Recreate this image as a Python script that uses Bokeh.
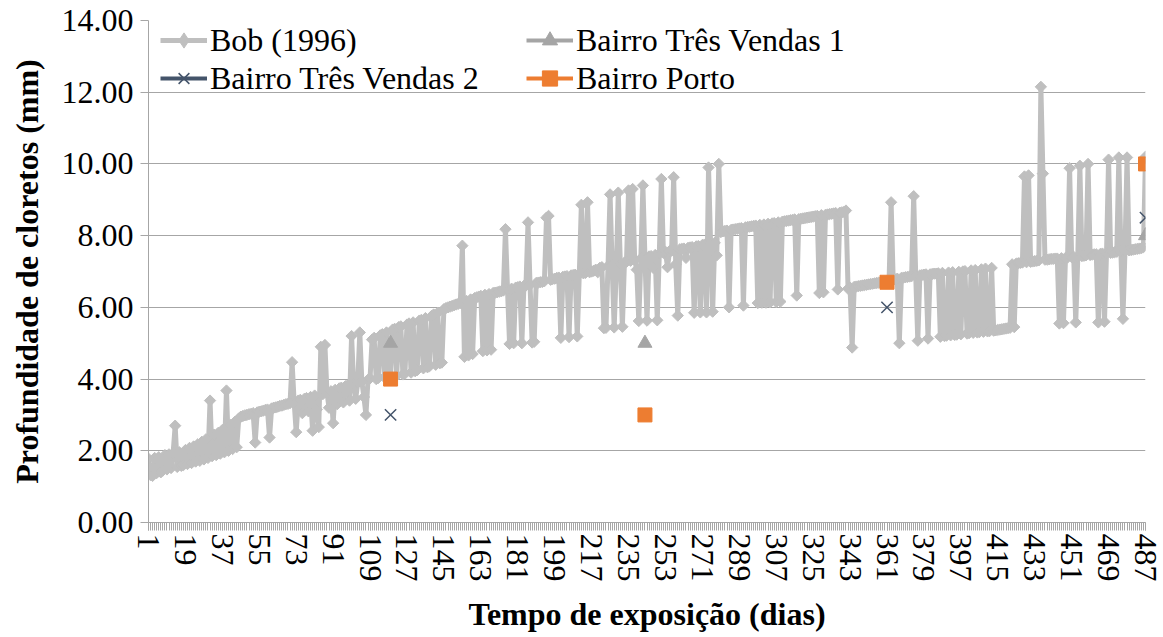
import numpy as np
from bokeh.plotting import figure
from bokeh.models import Range1d, FixedTicker, Legend, LegendItem, NumeralTickFormatter
from bokeh.embed import file_html
from bokeh.resources import INLINE

# ---------------- data ----------------
days = list(range(1, 488))
x_ticks = list(range(1, 488, 18))
y_ticks = [0, 2, 4, 6, 8, 10, 12, 14]

bob = [
    1.78, 1.32, 1.30, 1.80, 1.38, 1.82, 1.40, 1.45, 1.88, 1.48, 1.90, 1.52, 1.93, 2.70, 1.55, 1.96, 1.58, 1.60,
    2.02, 1.63, 2.08, 1.66, 2.12, 1.70, 2.18, 1.72, 2.25, 1.76, 2.32, 1.80, 3.40, 1.85, 2.45, 1.88, 2.50, 1.92,
    2.58, 1.96, 3.68, 2.00, 2.72, 2.05, 2.80, 2.10, 2.90, 2.95, 2.97, 2.99, 3.00, 3.02, 3.03, 3.05, 2.23, 3.07,
    3.09, 3.10, 3.12, 3.14, 3.15, 2.37, 3.18, 3.20, 3.21, 3.23, 3.25, 3.26, 3.28, 3.30, 3.31, 3.33, 4.47, 3.36,
    2.52, 3.40, 3.42, 3.05, 3.45, 3.47, 3.10, 3.50, 2.56, 3.54, 3.15, 2.66, 4.90, 3.58, 4.95, 3.62, 3.20, 3.66,
    2.77, 3.70, 3.30, 3.74, 3.76, 3.35, 3.80, 3.82, 3.40, 5.20, 3.86, 3.45, 3.90, 5.30, 3.93, 3.50, 3.00, 3.98,
    4.02, 5.10, 5.15, 4.00, 4.03, 5.22, 5.25, 4.05, 5.30, 4.06, 4.08, 5.38, 5.40, 4.10, 5.45, 5.47, 4.13, 4.15,
    5.52, 5.55, 4.18, 5.58, 4.22, 4.25, 5.63, 5.65, 4.30, 5.70, 4.33, 4.36, 5.76, 5.80, 4.40, 5.85, 4.44, 4.46,
    5.95, 5.98, 6.00, 6.02, 6.04, 6.06, 6.08, 6.10, 6.12, 7.72, 4.62, 6.18, 4.66, 6.22, 4.70, 6.26, 6.28, 6.30,
    6.32, 4.78, 6.35, 4.80, 6.37, 4.82, 6.40, 6.41, 6.42, 6.44, 6.45, 6.47, 8.18, 6.50, 4.98, 6.52, 5.00, 6.55,
    6.56, 6.58, 5.00, 6.60, 6.61, 8.37, 6.63, 5.02, 5.04, 6.68, 6.69, 6.70, 6.71, 6.73, 8.50, 8.55, 6.77, 6.79,
    6.80, 6.82, 6.83, 5.15, 6.85, 6.86, 6.87, 5.17, 6.89, 6.90, 6.91, 5.19, 6.93, 8.86, 6.95, 6.96, 8.93, 6.98,
    7.00, 7.02, 7.05, 6.98, 7.10, 7.12, 5.42, 5.43, 7.15, 9.15, 7.18, 5.44, 7.00, 9.20, 7.22, 5.46, 7.25, 7.27,
    9.26, 7.30, 9.30, 7.33, 7.05, 5.62, 7.36, 9.40, 7.38, 5.63, 7.42, 7.43, 7.10, 7.46, 5.64, 7.50, 9.58, 7.52,
    7.55, 7.12, 7.57, 7.58, 9.63, 7.20, 5.77, 7.62, 7.63, 7.64, 7.38, 7.66, 7.67, 7.68, 5.85, 7.70, 7.71, 5.86,
    7.74, 7.75, 5.86, 9.90, 7.78, 5.88, 7.80, 7.45, 10.00, 8.10, 8.12, 8.13, 8.14, 6.00, 8.16, 8.17, 8.18, 8.19,
    8.20, 8.21, 6.05, 8.23, 8.24, 8.25, 8.26, 8.27, 8.28, 6.12, 8.30, 6.13, 8.31, 6.13, 8.33, 6.14, 8.34, 8.35,
    6.15, 8.37, 6.16, 8.39, 8.40, 8.41, 8.42, 8.43, 8.44, 8.45, 6.33, 8.46, 8.47, 8.48, 8.49, 8.50, 8.51, 8.52,
    8.53, 8.54, 8.55, 6.40, 8.57, 6.42, 8.58, 8.59, 8.60, 8.61, 8.62, 8.63, 6.50, 8.64, 8.65, 8.66, 8.70, 6.52,
    6.55, 4.88, 6.57, 6.58, 6.59, 6.60, 6.61, 6.62, 6.63, 6.64, 6.65, 6.66, 6.67, 6.68, 6.69, 6.70, 6.71, 6.72,
    6.73, 6.74, 8.93, 6.76, 6.78, 6.80, 5.00, 6.82, 6.83, 6.84, 6.85, 6.86, 6.87, 9.10, 6.88, 5.07, 6.89, 6.90,
    6.91, 6.92, 5.13, 6.92, 6.93, 6.94, 6.94, 6.95, 5.18, 6.96, 5.20, 5.21, 6.97, 5.22, 6.98, 5.23, 5.24, 6.99,
    5.25, 7.00, 7.01, 5.27, 5.28, 7.03, 5.29, 7.04, 5.30, 5.31, 7.06, 5.32, 7.08, 5.33, 5.34, 7.10, 5.35, 5.36,
    5.37, 5.38, 5.39, 5.40, 5.41, 5.42, 5.43, 7.20, 5.45, 7.22, 7.23, 7.24, 7.25, 9.65, 7.26, 9.68, 7.27, 7.28,
    7.29, 7.30, 7.31, 12.15, 9.73, 7.33, 7.33, 7.34, 7.35, 7.35, 7.36, 7.36, 5.55, 7.37, 5.56, 7.38, 7.39, 9.88,
    7.40, 7.41, 5.58, 7.42, 9.95, 7.43, 7.44, 7.45, 10.00, 7.46, 7.47, 7.48, 7.48, 5.58, 7.49, 7.50, 5.60, 7.51,
    10.12, 7.52, 7.53, 7.54, 7.55, 10.18, 7.56, 5.68, 7.58, 10.18, 7.59, 7.60, 7.61, 7.62, 7.63, 7.64, 7.65, 7.68,
    10.20,
]

tv1_days = [119, 243, 487]
tv1_vals = [5.0, 5.0, 8.0]
tv2_days = [119, 361, 487]
tv2_vals = [3.0, 6.0, 8.5]
porto_days = [119, 243, 361, 487]
porto_vals = [4.0, 3.0, 6.7, 10.0]

# ---------------- styling ----------------
FONT = "'Times New Roman', 'Liberation Serif', Times, serif"
FS = "32px"
GRID = "#A6A6A6"
C_BOB = "#BFBFBF"
C_TV1 = "#A5A5A5"
C_TV2 = "#44546A"
C_PORTO = "#ED7D31"

p = figure(width=1163, height=637, x_range=Range1d(1, 487), y_range=Range1d(0, 14),
           output_backend="svg", toolbar_location=None,
           min_border_left=148, min_border_right=18, min_border_top=20, min_border_bottom=115)
p.outline_line_color = None
p.xgrid.visible = False
p.ygrid.ticker = FixedTicker(ticks=y_ticks)
p.ygrid.grid_line_color = GRID
p.ygrid.grid_line_width = 1

# y axis
yax = p.yaxis[0]
yax.ticker = FixedTicker(ticks=y_ticks)
yax.formatter = NumeralTickFormatter(format="0.00")
yax.axis_label = "Profundidade de cloretos (mm)"
yax.major_tick_out = 8
yax.major_tick_in = 0
yax.minor_tick_line_color = None
yax.major_label_standoff = 7
yax.axis_label_standoff = 14

# x axis
xax = p.xaxis[0]
xax.ticker = FixedTicker(ticks=x_ticks, minor_ticks=days)
xax.axis_label = "Tempo de exposição (dias)"
xax.major_label_orientation = "vertical"
xax.major_tick_out = 8
xax.major_tick_in = 0
xax.minor_tick_out = 8
xax.minor_tick_in = 0
xax.minor_tick_line_color = GRID
xax.major_label_standoff = 3
xax.axis_label_standoff = 11

for ax in (xax, yax):
    ax.axis_line_color = GRID
    ax.major_tick_line_color = GRID
    ax.major_label_text_font = FONT
    ax.major_label_text_font_size = FS
    ax.major_label_text_color = "black"
    ax.axis_label_text_font = FONT
    ax.axis_label_text_font_size = FS
    ax.axis_label_text_font_style = "bold"
    ax.axis_label_text_color = "black"

# series
bob_line = p.line(days, bob, line_color=C_BOB, line_width=5, line_join="round")
p.scatter(days, bob, marker="square", angle=np.pi / 4, size=8,
          fill_color=C_BOB, line_color=C_BOB)
bob_leg = p.scatter([np.nan], [np.nan], marker="diamond", size=15,
                    fill_color=C_BOB, line_color=C_BOB)

tv1_line = p.line([np.nan], [np.nan], line_color=C_TV1, line_width=4)
tv1_pts = p.scatter(tv1_days, tv1_vals, marker="triangle", size=14,
                    fill_color=C_TV1, line_color=C_TV1)
tv2_line = p.line([np.nan], [np.nan], line_color=C_TV2, line_width=4)
tv2_pts = p.scatter(tv2_days, tv2_vals, marker="x", size=16,
                    line_color=C_TV2, line_width=1.5)
porto_line = p.line([np.nan], [np.nan], line_color=C_PORTO, line_width=4)
porto_pts = p.scatter(porto_days, porto_vals, marker="square", size=14,
                      fill_color=C_PORTO, line_color=C_PORTO)

items = [
    LegendItem(label="Bob (1996)", renderers=[bob_line, bob_leg]),
    LegendItem(label="Bairro Três Vendas 1", renderers=[tv1_line, tv1_pts]),
    LegendItem(label="Bairro Três Vendas 2", renderers=[tv2_line, tv2_pts]),
    LegendItem(label="Bairro Porto", renderers=[porto_line, porto_pts]),
]
legend = Legend(items=items, location=(12, 425), orientation="horizontal", ncols=2,
                glyph_width=47, glyph_height=38, label_height=38, label_width=316,
                label_standoff=3, spacing=0, padding=0, margin=0,
                label_text_font=FONT, label_text_font_size=FS, label_text_color="black",
                border_line_color=None, background_fill_alpha=0)
p.add_layout(legend)

open("out.html", "w").write(file_html(p, INLINE))
